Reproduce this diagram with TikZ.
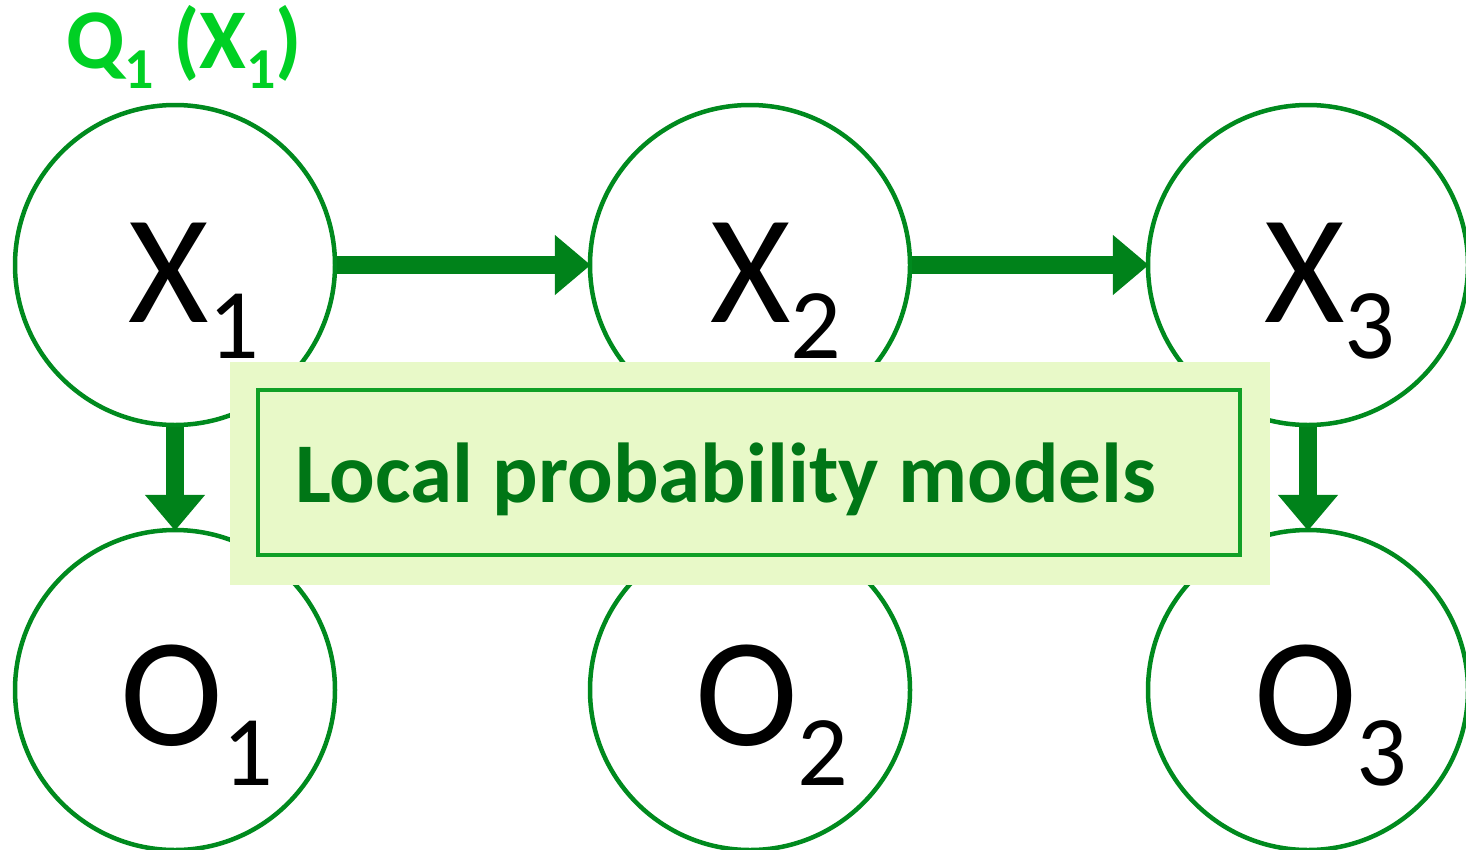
\documentclass[tikz,border=0pt]{standalone}
\usepackage{fontspec}
\setmainfont{Carlito}
\usetikzlibrary{arrows.meta}
\definecolor{circg}{RGB}{0,138,30}
\definecolor{arrg}{RGB}{0,130,26}
\definecolor{innerg}{RGB}{16,160,38}
\definecolor{textg}{RGB}{0,118,22}
\definecolor{boxfill}{RGB}{232,249,200}
\definecolor{qgreen}{RGB}{0,208,36}
\newcommand\bigsub[2]{\raisebox{-#1pt}{\fontsize{100}{100}\selectfont #2}}
\newcommand\qsub[1]{\raisebox{-20pt}{\fontsize{58}{58}\selectfont #1}}
\begin{document}
\begin{tikzpicture}[x=1pt,y=-1pt,
  varnode/.style={circle,draw=circg,line width=4.5pt,minimum size=320pt,inner sep=0pt,fill=white},
  lab/.style={anchor=base west,inner sep=0pt,font=\fontsize{155}{155}\selectfont,text=black},
  conn/.style={draw=arrg,line width=18pt,shorten >=-3pt,-{Triangle[length=36pt,width=58pt]}}]
\useasboundingbox (0,0) rectangle (1466,849);
\clip (0,0) rectangle (1466,849);
\node[varnode] (X1) at (175,265) {};
\node[varnode] (X2) at (750,265) {};
\node[varnode] (X3) at (1308,265) {};
\node[varnode] (O1) at (175,690) {};
\node[varnode] (O2) at (750,690) {};
\node[varnode] (O3) at (1308,690) {};
\draw[conn] (X1) -- (X2);
\draw[conn] (X2) -- (X3);
\draw[conn] (X1) -- (O1);
\draw[conn] (X3) -- (O3);
\node[lab] (X1l) at (128,322) {X\bigsub{36}{1}};
\node[lab] (X2l) at (710,322) {X\bigsub{36}{2}};
\node[lab] (X3l) at (1264,322) {X\bigsub{36}{3}};
\node[lab] (O1l) at (120,745) {O\bigsub{40}{1}};
\node[lab] (O2l) at (695,745) {O\bigsub{40}{2}};
\node[lab] (O3l) at (1254,745) {O\bigsub{40}{3}};
\node[anchor=base west,inner sep=0pt,text=qgreen,font=\bfseries\fontsize{85}{85}\selectfont] (Q) at (66,68) {Q\qsub{1} (X\qsub{1})};
\node[fill=boxfill,minimum width=1040pt,minimum height=223pt,inner sep=0pt,anchor=north west] (outer) at (230,362) {};
\node[draw=innerg,line width=4pt,minimum width=982pt,minimum height=165pt,inner sep=0pt] (inner) at (749,472.5) {};
\node[anchor=base west,inner sep=0pt,text=textg,font=\bfseries\fontsize{85}{85}\selectfont] (txt) at (295,502) {Local probability models};
\end{tikzpicture}
\end{document}
